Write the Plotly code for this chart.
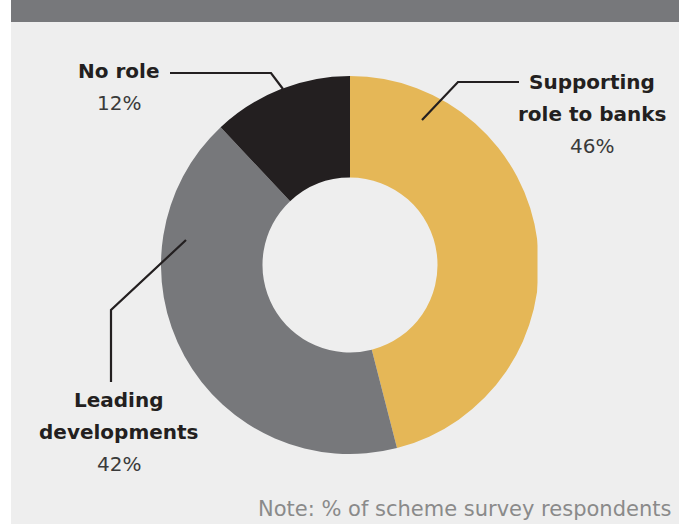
import plotly.graph_objects as go

# Survey shares, drawn clockwise from 12 o'clock
categories = ["Supporting role to banks", "Leading developments", "No role"]
label_lines = [["Supporting", "role to banks"], ["Leading", "developments"], ["No role"]]
shares = [46, 42, 12]
slice_colors = ["#e5b757", "#77787b", "#231f20"]

W, H = 679, 524
INK = "#231f20"
PANEL = "#eeeeee"


def X(px):
    return px / W


def Y(py):
    return 1 - py / H


# donut geometry in pixels
cx, cy, r = 350, 265, 189

fig = go.Figure(
    go.Pie(
        labels=categories,
        values=shares,
        sort=False,
        direction="clockwise",
        rotation=0,
        hole=0.463,
        marker=dict(colors=slice_colors, line=dict(width=0)),
        textinfo="none",
        hoverinfo="none",
        showlegend=False,
        domain=dict(x=[X(cx - r), X(cx + r)], y=[Y(cy + r), Y(cy - r)]),
    )
)

shapes = [
    # panel and header band
    dict(type="rect", xref="paper", yref="paper", x0=X(11), x1=1, y0=0, y1=1,
         fillcolor=PANEL, line=dict(width=0), layer="below"),
    dict(type="rect", xref="paper", yref="paper", x0=X(11), x1=1, y0=Y(22), y1=1,
         fillcolor="#77787b", line=dict(width=0), layer="below"),
    # panel edge trims the right side of the ring
    dict(type="rect", xref="paper", yref="paper", x0=X(537.5), x1=X(546), y0=Y(380), y1=Y(150),
         fillcolor=PANEL, line=dict(width=0), layer="above"),
]

# leader lines (label end -> elbow -> ring)
leaders = [
    [(519, 82), (458, 82), (422, 120)],
    [(111, 382), (111, 310), (186, 240)],
    [(170, 73), (271, 73), (283, 89)],
]
for pts in leaders:
    path = "M " + " L ".join(f"{X(px)},{Y(py)}" for px, py in pts)
    shapes.append(dict(type="path", xref="paper", yref="paper", path=path,
                       line=dict(color=INK, width=2.2), layer="above"))

# label anchors: centre x, y of each text line, y of the value line
label_pos = [
    (592, [82, 114], 146),
    (119, [400, 432], 464),
    (119, [71], 103),
]

annotations = []
for lines, v, (lx, ys, vy) in zip(label_lines, shares, label_pos):
    for txt, ly in zip(lines, ys):
        annotations.append(dict(
            x=X(lx), y=Y(ly), xref="paper", yref="paper", xanchor="center", yanchor="middle",
            text=f"<b>{txt}</b>", showarrow=False,
            font=dict(family="DejaVu Sans", size=20, color=INK)))
    annotations.append(dict(
        x=X(lx), y=Y(vy), xref="paper", yref="paper", xanchor="center", yanchor="middle",
        text=f"{v}%", showarrow=False,
        font=dict(family="DejaVu Sans", size=20, color="#3a3a3a")))

annotations.append(dict(
    x=X(673), y=Y(509), xref="paper", yref="paper", xanchor="right", yanchor="middle",
    text="Note: % of scheme survey respondents", showarrow=False,
    font=dict(family="DejaVu Sans", size=21, color="#8a8a8a")))

# last line of the header title, running off the top edge
annotations.append(dict(
    x=X(20), y=Y(6.5), xref="paper", yref="paper", xanchor="left", yanchor="bottom",
    text="financial inclusion", showarrow=False,
    font=dict(family="DejaVu Sans", size=22, color="#ffffff")))

fig.update_layout(
    width=W, height=H,
    margin=dict(l=0, r=0, t=0, b=0),
    paper_bgcolor="#ffffff",
    plot_bgcolor="#ffffff",
    shapes=shapes,
    annotations=annotations,
)

fig.write_html("out.html", config=dict(displayModeBar=False))
